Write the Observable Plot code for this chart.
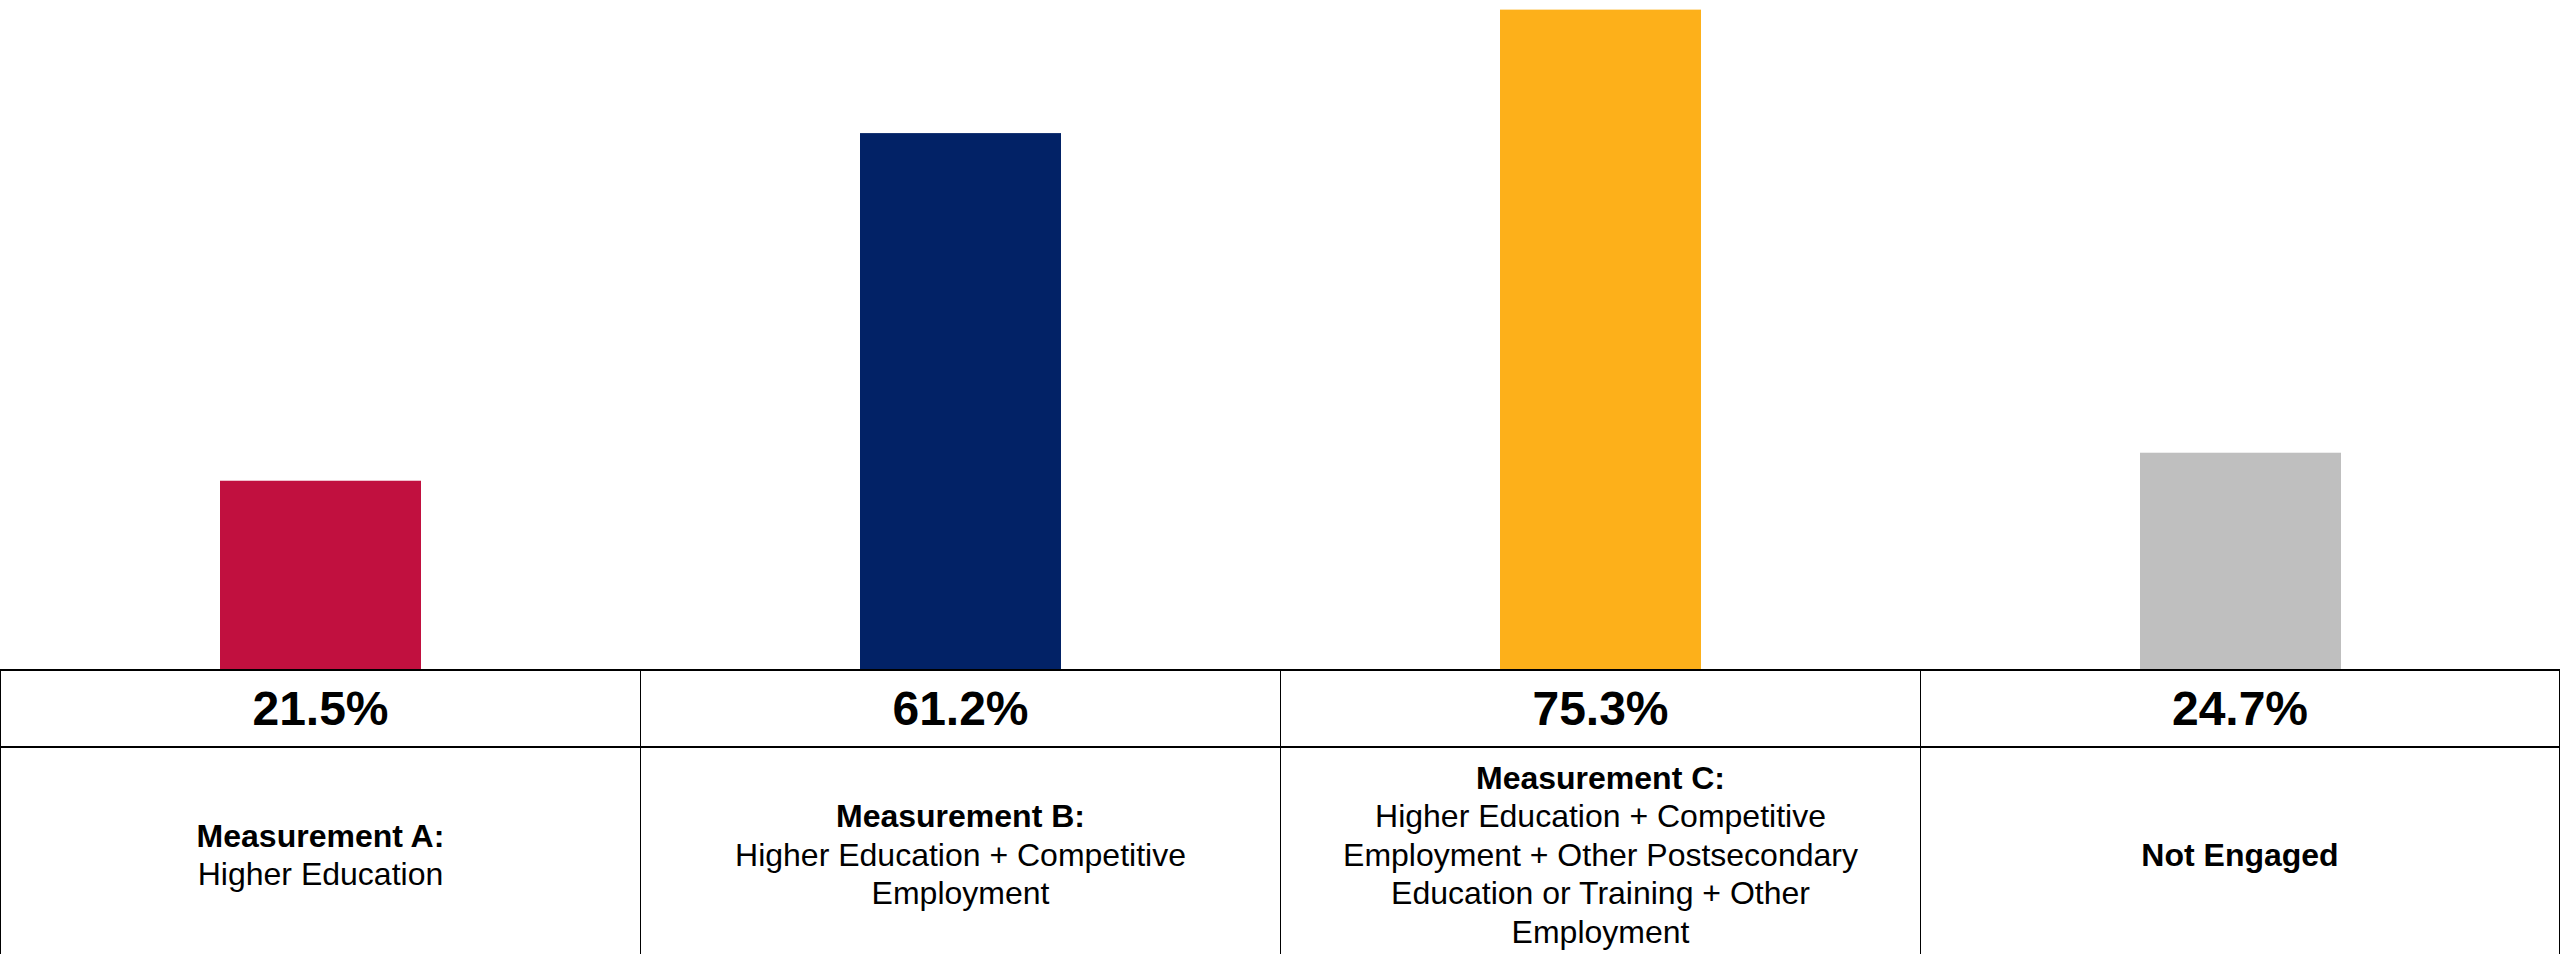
<!DOCTYPE html>
<html><head><meta charset="utf-8">
<script src="https://cdn.jsdelivr.net/npm/d3@7"></script>
<script src="https://cdn.jsdelivr.net/npm/@observablehq/plot@0.6"></script>
<style>
html,body{margin:0;padding:0;background:#fff;overflow:hidden;}
body{width:2560px;height:954px;font-family:"Liberation Sans",Arial,sans-serif;}
#chart svg{display:block;}
#table{display:grid;grid-template-columns:repeat(4,640px);width:2560px;}
.cell{box-sizing:border-box;display:flex;flex-direction:column;align-items:center;justify-content:center;text-align:center;color:#000;border-left:1.5px solid #000;}
.cell.first{border-left:1.5px solid #000;}
.cell.last{border-right:1.5px solid #000;}
.pct{height:79px;border-top:2.5px solid #000;border-bottom:2.5px solid #000;font-size:48px;font-weight:bold;}
.lab{height:214px;font-size:32px;line-height:38.5px;}
.lab b{font-weight:bold;}
</style></head><body><div id="chart"></div><div id="table"></div>
<script>
const categories = ["Measurement A", "Measurement B", "Measurement C", "Not Engaged"];
const values = [21.5, 61.2, 75.3, 24.7];
const colors = ["#C1103F", "#022266", "#FDB01A", "#BFBFBF"];
const valueLabels = ["21.5%", "61.2%", "75.3%", "24.7%"];
const labelTitles = ["Measurement A:", "Measurement B:", "Measurement C:", "Not Engaged"];
const labelLines = [
  ["Higher Education"],
  ["Higher Education + Competitive", "Employment"],
  ["Higher Education + Competitive", "Employment + Other Postsecondary", "Education or Training + Other", "Employment"],
  []
];

const data = categories.map((c, i) => ({category: c, value: values[i]}));

const chart = Plot.plot({
  width: 2560,
  height: 669,
  marginTop: 0,
  marginBottom: 0,
  marginLeft: 0,
  marginRight: 0,
  x: {type: "band", domain: categories, paddingInner: 0.686, paddingOuter: 0.343, axis: null},
  y: {domain: [0, 76.4], axis: null},
  color: {domain: categories, range: colors},
  marks: [
    Plot.barY(data, {x: "category", y: "value", fill: "category"})
  ]
});
document.getElementById("chart").appendChild(chart);

const table = document.getElementById("table");
const n = categories.length;
categories.forEach((c, i) => {
  const d = document.createElement("div");
  d.className = "cell pct" + (i === 0 ? " first" : "") + (i === n - 1 ? " last" : "");
  d.textContent = valueLabels[i];
  table.appendChild(d);
});
categories.forEach((c, i) => {
  const d = document.createElement("div");
  d.className = "cell lab" + (i === 0 ? " first" : "") + (i === n - 1 ? " last" : "");
  const t = document.createElement("b");
  t.textContent = labelTitles[i];
  d.appendChild(t);
  labelLines[i].forEach(line => {
    const s = document.createElement("div");
    s.textContent = line;
    d.appendChild(s);
  });
  table.appendChild(d);
});
</script>
</body></html>
